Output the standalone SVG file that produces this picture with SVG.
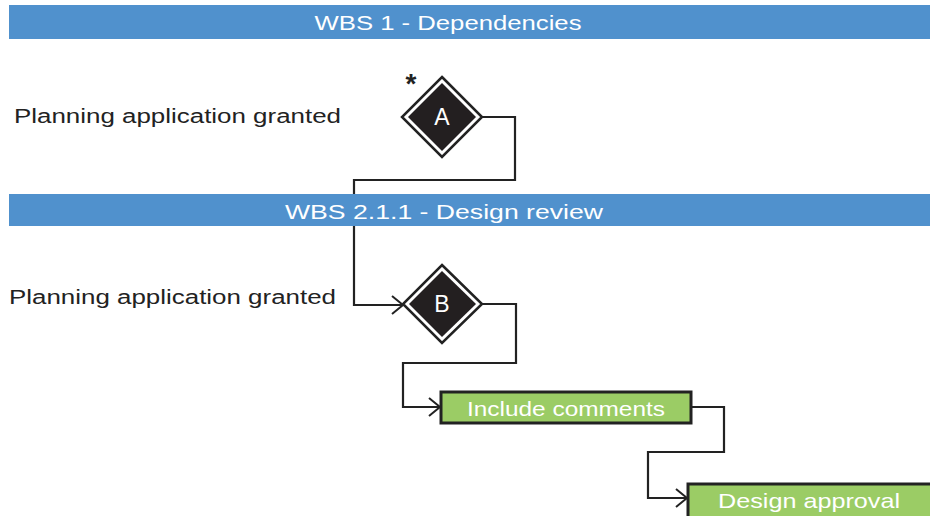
<svg xmlns="http://www.w3.org/2000/svg" width="930" height="516" viewBox="0 0 930 516">
<style>
.hdr{fill:#5091CD}
.ht{font-family:"Liberation Sans",Arial,sans-serif;font-size:21px;fill:#fff;text-anchor:middle;dominant-baseline:central}
.lbl{font-family:"Liberation Sans",Arial,sans-serif;font-size:20px;fill:#222}
.conn{fill:none;stroke:#222;stroke-width:2.2}
.dia-o{fill:#fff;stroke:#222;stroke-width:2.5}
.dia-i{fill:#231f20}
.dt{font-family:"Liberation Sans",Arial,sans-serif;font-size:23px;fill:#fff;text-anchor:middle;dominant-baseline:central}
.box{fill:#9BCC65;stroke:#222;stroke-width:3}
.bt{font-family:"Liberation Sans",Arial,sans-serif;font-size:21px;fill:#fff;text-anchor:middle;dominant-baseline:central}
</style>
<defs>
<marker id="arr" markerWidth="14" markerHeight="20" refX="12" refY="10" orient="auto" markerUnits="userSpaceOnUse">
<path d="M1,1 L12,10 L1,19" fill="none" stroke="#222" stroke-width="2"/>
</marker>
</defs>
<rect width="930" height="516" fill="#fff"/>
<g id="connectors">
<path class="conn" d="M482,117 H515 V180 H354 V305 H403" marker-end="url(#arr)"/>
<path class="conn" d="M482,304 H516 V363 H403 V407 H440" marker-end="url(#arr)"/>
<path class="conn" d="M691,407 H724 V452 H648 V498 H687" marker-end="url(#arr)"/>
</g>
<g id="header1">
<rect class="hdr" x="9" y="5" width="921" height="34"/>
<text class="ht" x="448" y="22" textLength="267" lengthAdjust="spacingAndGlyphs">WBS 1 - Dependencies</text>
</g>
<g id="header2">
<rect class="hdr" x="9" y="194" width="921" height="32"/>
<text class="ht" x="444" y="211" textLength="318" lengthAdjust="spacingAndGlyphs">WBS 2.1.1 - Design review</text>
</g>
<g id="label1">
<text class="lbl" x="14" y="123" textLength="327" lengthAdjust="spacingAndGlyphs">Planning application granted</text>
</g>
<g id="label2">
<text class="lbl" x="9" y="304" textLength="327" lengthAdjust="spacingAndGlyphs">Planning application granted</text>
</g>
<g id="nodeA">
<polygon class="dia-o" points="442,77 482,117 442,157 402,117"/>
<polygon class="dia-i" points="442,83 476,117 442,151 408,117"/>
<text class="dt" x="442" y="117">A</text>
<text x="411" y="93" font-family="Liberation Sans,Arial,sans-serif" font-size="28" font-weight="bold" fill="#222" text-anchor="middle">*</text>
</g>
<g id="nodeB">
<polygon class="dia-o" points="442,265 482,304 442,343 403,304"/>
<polygon class="dia-i" points="442,271 476,304 442,337 409,304"/>
<text class="dt" x="442" y="304">B</text>
</g>
<g id="include">
<rect class="box" x="441" y="392" width="250" height="31"/>
<text class="bt" x="566" y="408" textLength="198" lengthAdjust="spacingAndGlyphs">Include comments</text>
</g>
<g id="approval">
<rect class="box" x="688" y="484" width="250" height="40"/>
<text class="bt" x="809" y="500" textLength="182" lengthAdjust="spacingAndGlyphs">Design approval</text>
</g>
</svg>
